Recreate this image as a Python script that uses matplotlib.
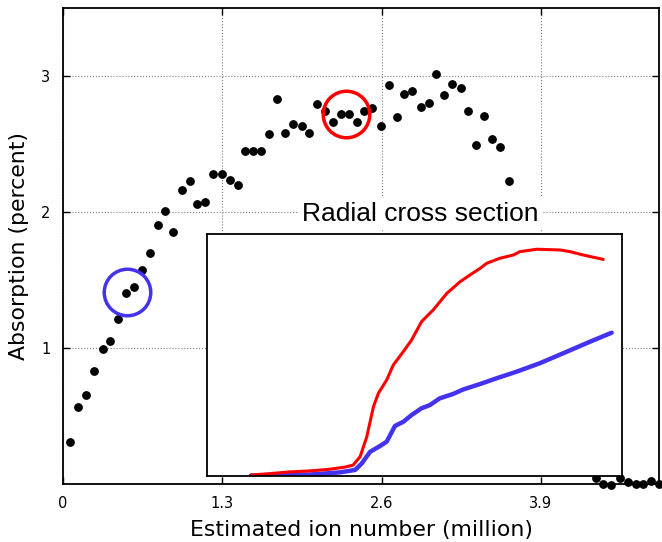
import matplotlib
matplotlib.use("Agg")
import matplotlib.pyplot as plt

# Main scatter data (visible points)
ion_number = [0.057, 0.122, 0.188, 0.250, 0.324, 0.386, 0.446, 0.511, 0.577, 0.647,
              0.710, 0.773, 0.835, 0.898, 0.971, 1.034, 1.096, 1.161, 1.222, 1.295,
              1.360, 1.426, 1.485, 1.551, 1.616, 1.684, 1.747, 1.812, 1.875, 1.948,
              2.010, 2.070, 2.138, 2.201, 2.269, 2.331, 2.397, 2.459, 2.524, 2.595,
              2.658, 2.723, 2.785, 2.848, 2.919, 2.984, 3.047, 3.109, 3.175, 3.246,
              3.308, 3.371, 3.436, 3.499, 3.569, 3.637,
              4.347, 4.410, 4.470, 4.546, 4.614, 4.676, 4.736, 4.796, 4.864]
absorption = [0.311, 0.563, 0.651, 0.832, 0.991, 1.055, 1.211, 1.407, 1.449, 1.571,
              1.701, 1.904, 2.007, 1.855, 2.164, 2.227, 2.058, 2.073, 2.276, 2.276,
              2.237, 2.195, 2.447, 2.452, 2.447, 2.570, 2.829, 2.579, 2.650, 2.636,
              2.579, 2.797, 2.739, 2.660, 2.724, 2.724, 2.665, 2.746, 2.766, 2.634,
              2.935, 2.697, 2.868, 2.893, 2.773, 2.805, 3.015, 2.858, 2.942, 2.910,
              2.746, 2.496, 2.707, 2.535, 2.477, 2.230,
              0.044, 0.000, -0.007, 0.044, 0.017, 0.000, 0.000, 0.020, 0.000]

x_ticks = [0, 1.3, 2.6, 3.9]
x_tick_labels = ["0", "1.3", "2.6", "3.9"]
y_ticks = [1, 2, 3]
y_tick_labels = ["1", "2", "3"]

# Highlight circles (centres)
blue_circle = (0.522, 1.412)
red_circle = (2.306, 2.720)

# Inset: radial cross sections (normalised inset coordinates)
red_x = [0.106, 0.152, 0.200, 0.248, 0.296, 0.333, 0.352, 0.369, 0.385, 0.401,
         0.413, 0.433, 0.449, 0.473, 0.493, 0.517, 0.545, 0.578, 0.610, 0.634,
         0.658, 0.674, 0.706, 0.738, 0.754, 0.794, 0.851, 0.875, 0.907, 0.955]
red_y = [0.004, 0.010, 0.017, 0.021, 0.028, 0.037, 0.045, 0.080, 0.162, 0.286,
         0.342, 0.397, 0.459, 0.514, 0.562, 0.638, 0.686, 0.755, 0.803, 0.831,
         0.858, 0.879, 0.900, 0.913, 0.927, 0.937, 0.934, 0.927, 0.913, 0.895]
blue_x = [0.106, 0.176, 0.248, 0.320, 0.357, 0.373, 0.393, 0.417, 0.433, 0.453,
          0.473, 0.493, 0.517, 0.537, 0.561, 0.593, 0.618, 0.658, 0.698, 0.746,
          0.802, 0.858, 0.923, 0.975]
blue_y = [0.002, 0.004, 0.006, 0.015, 0.025, 0.052, 0.100, 0.124, 0.142, 0.207,
          0.224, 0.252, 0.280, 0.293, 0.321, 0.339, 0.358, 0.380, 0.404, 0.431,
          0.466, 0.507, 0.555, 0.592]

BLUE = "#4433ee"
RED = "#ff0000"

W, H = 662, 542
fig = plt.figure(figsize=(W / 100, H / 100), dpi=100)
ax = fig.add_axes([63 / W, 1 - 484 / H, (659 - 63) / W, (484 - 8) / H])

ax.plot(ion_number, absorption, "o", color="black", markersize=5.3,
        linestyle="none", clip_on=False, zorder=3)
ax.plot([blue_circle[0]], [blue_circle[1]], "o", markersize=33.5, markerfacecolor="none",
        markeredgecolor=BLUE, markeredgewidth=2.5, zorder=4)
ax.plot([red_circle[0]], [red_circle[1]], "o", markersize=33.5, markerfacecolor="none",
        markeredgecolor=RED, markeredgewidth=2.5, zorder=4)

ax.set_xlim(0, 4.864)
ax.set_ylim(0, 3.5)
ax.set_xticks(x_ticks)
ax.set_xticklabels(x_tick_labels)
ax.set_yticks(y_ticks)
ax.set_yticklabels(y_tick_labels)
ax.tick_params(direction="in", length=5, width=1, top=True, right=True,
               labelsize=10.5, pad=9)
ax.grid(True, linestyle=":", linewidth=0.8, color="0.5")
for s in ax.spines.values():
    s.set_linewidth(1.3)

ax.set_xlabel("Estimated ion number (million)", fontsize=15.8, labelpad=6)
ax.set_ylabel("Absorption (percent)", fontsize=15.8, labelpad=9)

ax.text(420 / W, 1 - 214 / H, "Radial cross section", transform=fig.transFigure,
        ha="center", va="center", fontsize=19, family="Liberation Sans",
        bbox=dict(boxstyle="square,pad=0.15", facecolor="white", edgecolor="none"),
        zorder=6)

ins = fig.add_axes([207 / W, 1 - 476 / H, (622 - 207) / W, (476 - 234) / H])
ins.plot(blue_x, blue_y, color=BLUE, linewidth=3.2, solid_capstyle="round")
ins.plot(red_x, red_y, color=RED, linewidth=2.2, solid_capstyle="round")
ins.set_xlim(0, 1)
ins.set_ylim(0, 1)
ins.set_xticks([])
ins.set_yticks([])
for s in ins.spines.values():
    s.set_linewidth(1.3)

fig.savefig("out.png", dpi=100)
